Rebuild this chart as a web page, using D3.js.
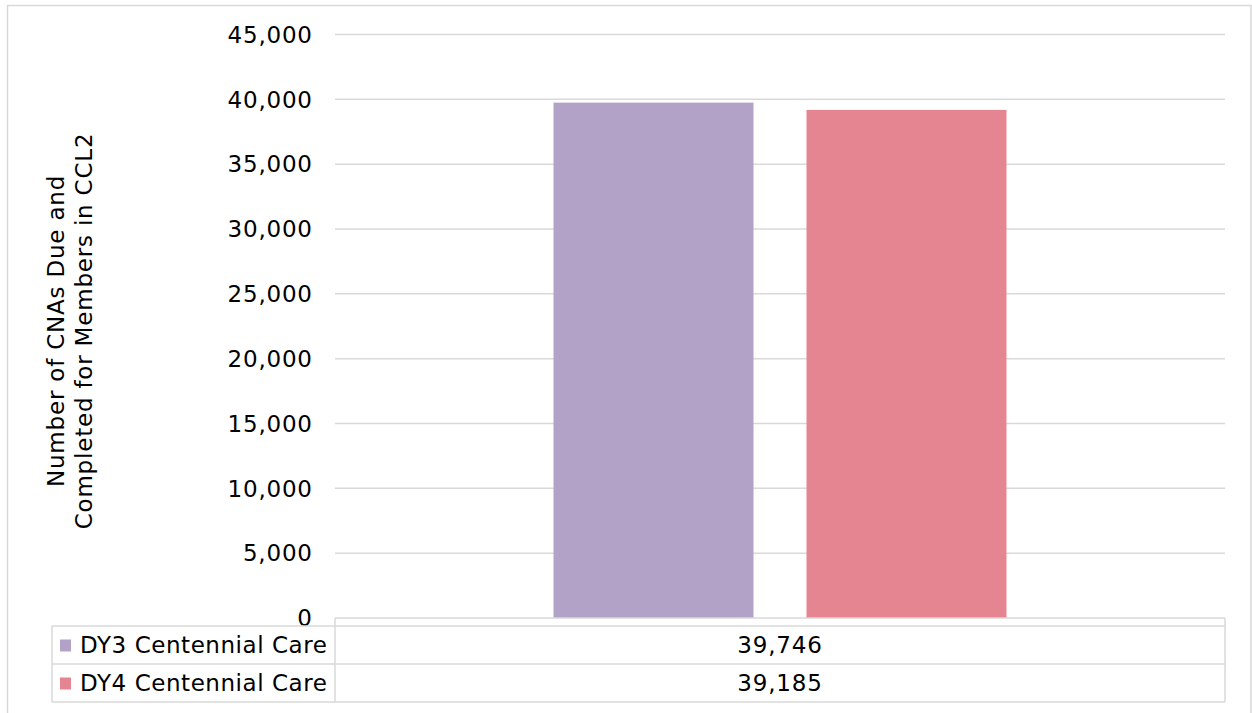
<!DOCTYPE html>
<html>
<head>
<meta charset="utf-8">
<script src="https://cdn.jsdelivr.net/npm/d3@7"></script>
<style>
  html, body { margin: 0; padding: 0; background: #ffffff; }
  svg { display: block; }
  text { font-family: "DejaVu Sans", Verdana, sans-serif; fill: #000; }
</style>
</head>
<body>
<svg id="chart" width="1252" height="713"></svg>
<script>
// ---- data ----
const categories = [""];
const seriesNames = ["DY3 Centennial Care", "DY4 Centennial Care"];
const seriesValues = [39746, 39185];
const seriesColors = ["#b2a2c7", "#e58592"];
const yTicks = [0, 5000, 10000, 15000, 20000, 25000, 30000, 35000, 40000, 45000];
const yTitleLines = ["Number of CNAs Due and", "Completed for Members in CCL2"];

// ---- layout ----
const W = 1252, H = 713;
const plot = { left: 335, right: 1225, top: 34.5, bottom: 618 };
const table = { left: 52, headerTop: 618, rowTop: 626, rowH: 38 };
const grid = "#d9d9d9";
const fs = 23, ls = 0.8;

const svg = d3.select("#chart");

// outer chart border
svg.append("rect")
  .attr("x", 7.5).attr("y", 5.5)
  .attr("width", 1243.5).attr("height", H + 20)
  .attr("fill", "none").attr("stroke", grid).attr("stroke-width", 1.5);

const y = d3.scaleLinear().domain([0, 45000]).range([plot.bottom, plot.top]);
const x0 = d3.scaleBand().domain(categories).range([plot.left, plot.right]).padding(0);
const x1 = d3.scaleBand().domain(seriesNames).range([0, x0.bandwidth()])
  .paddingInner(0.2095).paddingOuter(0.8637);

// gridlines
svg.append("g").selectAll("line")
  .data(yTicks.filter(d => d > 0))
  .join("line")
  .attr("x1", plot.left).attr("x2", plot.right)
  .attr("y1", d => y(d)).attr("y2", d => y(d))
  .attr("stroke", grid).attr("stroke-width", 1.5);

// y axis labels
const fmt = d3.format(",");
svg.append("g").selectAll("text")
  .data(yTicks)
  .join("text")
  .attr("x", 312 + ls).attr("y", d => y(d))
  .attr("dy", "0.36em")
  .attr("text-anchor", "end")
  .style("font-size", fs + "px")
  .style("letter-spacing", ls + "px")
  .text(d => fmt(d));

// y axis title
const tg = svg.append("g").attr("transform", "translate(0,331) rotate(-90)");
tg.selectAll("text")
  .data(yTitleLines)
  .join("text")
  .attr("x", 0)
  .attr("y", (d, i) => 63.5 + i * 28)
  .attr("text-anchor", "middle")
  .style("font-size", fs + "px")
  .style("letter-spacing", ls + "px")
  .text(d => d);

// bars
const barData = categories.flatMap(c => seriesNames.map((s, i) => ({ c, s, v: seriesValues[i], color: seriesColors[i] })));
svg.append("g").selectAll("rect")
  .data(barData)
  .join("rect")
  .attr("x", d => x0(d.c) + x1(d.s))
  .attr("width", x1.bandwidth())
  .attr("y", d => y(d.v))
  .attr("height", d => y(0) - y(d.v))
  .attr("fill", d => d.color);

// data table
const tbl = svg.append("g").attr("stroke", grid).attr("stroke-width", 1.5).attr("fill", "none");
const rowsBottom = table.rowTop + table.rowH * seriesNames.length;
tbl.append("line").attr("x1", plot.left).attr("x2", plot.right).attr("y1", table.headerTop).attr("y2", table.headerTop);
tbl.append("line").attr("x1", plot.left).attr("x2", plot.left).attr("y1", table.headerTop).attr("y2", rowsBottom);
tbl.append("line").attr("x1", plot.right).attr("x2", plot.right).attr("y1", table.headerTop).attr("y2", rowsBottom);
tbl.append("line").attr("x1", table.left).attr("x2", table.left).attr("y1", table.rowTop).attr("y2", rowsBottom);
d3.range(seriesNames.length + 1).forEach(i => {
  const yy = table.rowTop + i * table.rowH;
  tbl.append("line").attr("x1", table.left).attr("x2", plot.right).attr("y1", yy).attr("y2", yy);
});

const rows = svg.append("g").selectAll("g")
  .data(seriesNames.map((s, i) => ({ s, v: seriesValues[i], color: seriesColors[i], i })))
  .join("g")
  .attr("transform", d => `translate(0,${table.rowTop + d.i * table.rowH})`);

rows.append("rect")
  .attr("x", 60).attr("y", 13.5)
  .attr("width", 11).attr("height", 12)
  .attr("fill", d => d.color);

rows.append("text")
  .attr("x", 80).attr("y", 26.5)
  .style("font-size", fs + "px")
  .style("letter-spacing", "0.55px")
  .text(d => d.s);

rows.append("text")
  .attr("x", x0(categories[0]) + x0.bandwidth() / 2)
  .attr("y", 26.5)
  .attr("text-anchor", "middle")
  .style("font-size", fs + "px")
  .style("letter-spacing", ls + "px")
  .text(d => fmt(d.v));
</script>
</body>
</html>
